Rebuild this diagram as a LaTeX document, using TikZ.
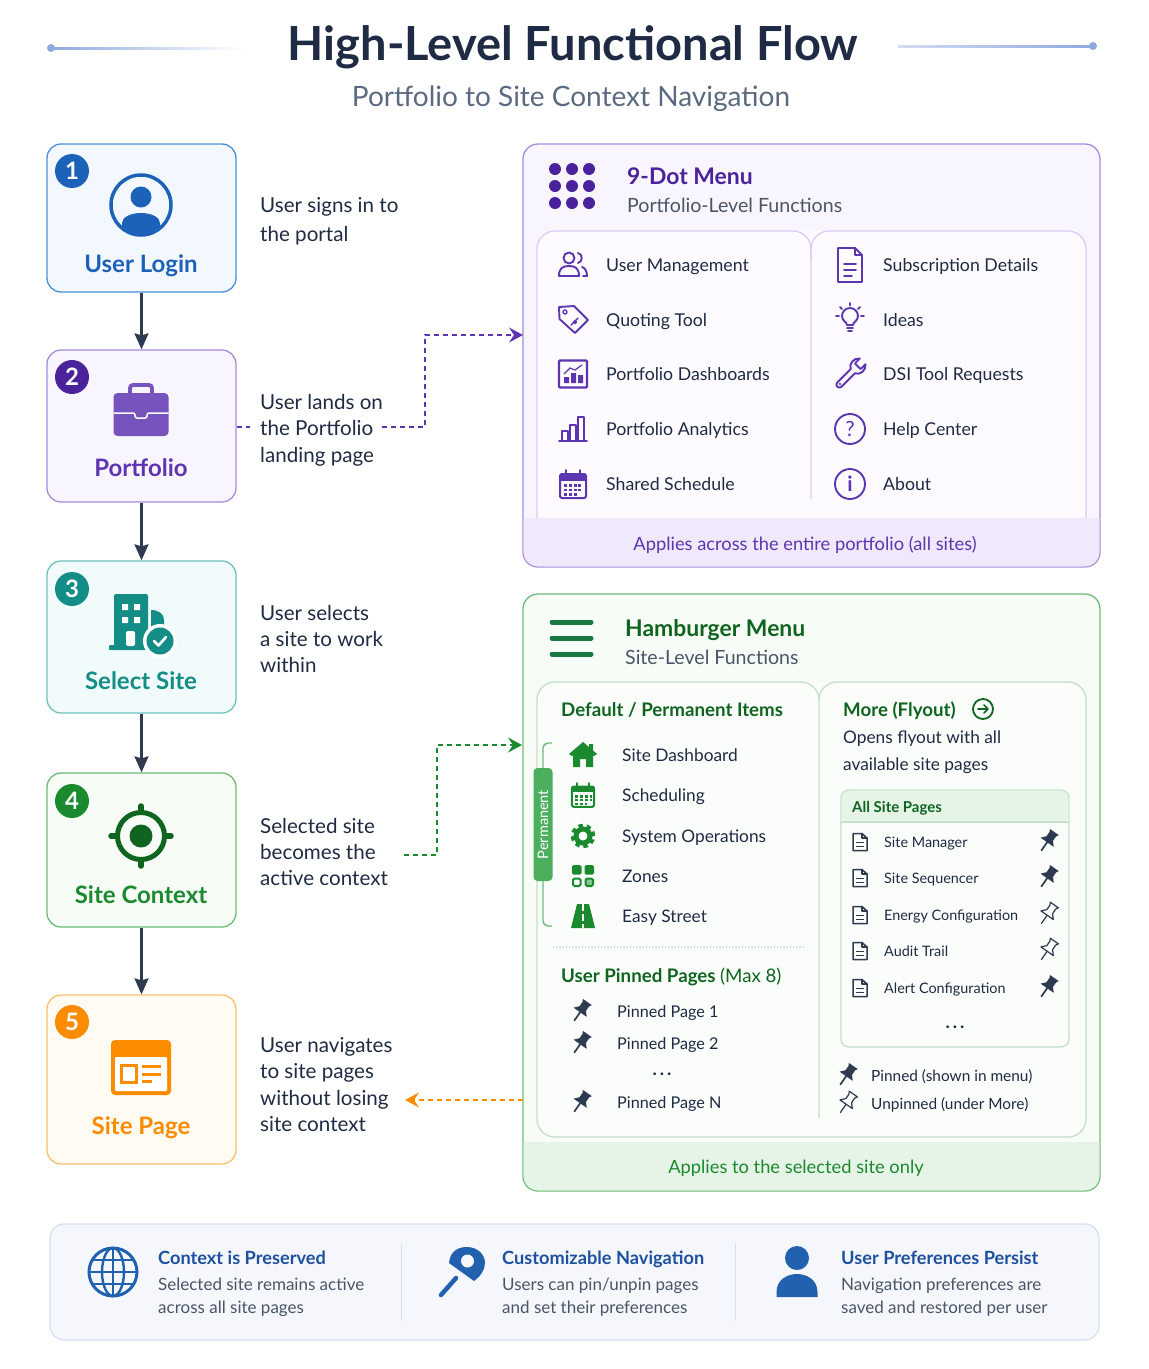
\documentclass[tikz,border=0pt]{standalone}
\usepackage{fontspec}
\setmainfont{Lato}
\usepackage{xcolor}
\usepackage{tikz}
\usetikzlibrary{arrows.meta, calc}
\newcommand{\fs}[1]{\fontsize{#1}{#1}\selectfont}
\definecolor{inkdark}{HTML}{1F2A44}
\definecolor{inkgrey}{HTML}{4A5568}
\definecolor{inksub}{HTML}{5B6A80}
\definecolor{rulebl}{HTML}{8FA9DF}
\definecolor{arrowdark}{HTML}{2D3A4F}
\definecolor{blueline}{HTML}{4A90D9}
\definecolor{bluemain}{HTML}{1C62B9}
\definecolor{bluefill}{HTML}{F3F7FE}
\definecolor{purpline}{HTML}{A98BDD}
\definecolor{purpmain}{HTML}{5E35B1}
\definecolor{purpdeep}{HTML}{4A239C}
\definecolor{purpfill}{HTML}{F9F5FE}
\definecolor{purpband}{HTML}{EFE9FB}
\definecolor{purppanel}{HTML}{FDFBFF}
\definecolor{purpedge}{HTML}{D9CDF3}
\definecolor{tealline}{HTML}{6CC2BC}
\definecolor{tealmain}{HTML}{138D85}
\definecolor{tealfill}{HTML}{F2FBFB}
\definecolor{greenline}{HTML}{6CBB78}
\definecolor{greenmain}{HTML}{1B8A2E}
\definecolor{greendeep}{HTML}{0F6420}
\definecolor{greenfill}{HTML}{F7FCF6}
\definecolor{greenband}{HTML}{E6F4E8}
\definecolor{greenpanel}{HTML}{FBFDFB}
\definecolor{greenedge}{HTML}{C3E0CB}
\definecolor{burgergreen}{HTML}{187A40}
\definecolor{pillgreen}{HTML}{4CAF5E}
\definecolor{orangeline}{HTML}{FBBF6B}
\definecolor{orangemain}{HTML}{FB8C00}
\definecolor{orangefill}{HTML}{FFFBF2}
\definecolor{stripline}{HTML}{D5E0F5}
\definecolor{stripfill}{HTML}{F5F7FD}
\definecolor{stripblue}{HTML}{1E50A0}
\definecolor{stripicon}{HTML}{2161AE}
\begin{document}
\begin{tikzpicture}[x=1pt, y=-1pt,
        % Define a style for the step boxes and their numbers
        stepbox/.style={draw, rounded corners=14pt, line width=1.3pt, minimum width=189pt},
        badge/.style={circle, minimum size=34pt, inner sep=0pt, text=white, font=\bfseries\fs{24}},
        evenline/.style={execute at begin node=\vphantom{Ag}, yshift=-1.8pt},
        steptitle/.style={inner sep=0pt, evenline, font=\bfseries\fs{24}},
        steptext/.style={anchor=west, inner sep=0pt, align=left, text=inkdark},
        flow/.style={line width=2.3pt, draw=arrowdark, -{Stealth[length=16pt, width=14pt, inset=2pt]}},
        jump/.style={line width=1.8pt, dash pattern=on 5pt off 4pt},
        jumpend/.style={-{Stealth[length=14pt, width=15pt, inset=5pt]}},
        % Define a style for the menus
        menubox/.style={draw, rounded corners=15pt, line width=1.3pt, minimum width=577pt},
        menuhead/.style={anchor=west, inner sep=0pt, evenline, font=\bfseries\fs{22.9}},
        menusub/.style={anchor=west, inner sep=0pt, evenline, text=inkgrey, font=\fs{19.6}},
        itemtext/.style={anchor=west, inner sep=0pt, evenline, text=inkdark, font=\fs{17.7}},
        siteitem/.style={itemtext, font=\fs{17.3}},
        pinneditem/.style={itemtext, font=\fs{16.2}},
        smalltext/.style={anchor=west, inner sep=0pt, evenline, text=inkdark, font=\fs{14.4}},
        legendtext/.style={smalltext, font=\fs{15.4}},
        moredots/.style={inner sep=0pt, text=inkdark, font=\bfseries\fs{18}},
        sechead/.style={anchor=west, inner sep=0pt, evenline, text=greendeep, font=\bfseries\fs{18.7}},
        bandtext/.style={inner sep=0pt, evenline, font=\fs{18.3}},
        % Define a style for the notes along the bottom
        notehead/.style={anchor=west, inner sep=0pt, evenline, text=stripblue, font=\bfseries\fs{18.2}},
        notetext/.style={anchor=west, inner sep=0pt, evenline, text=inkgrey, font=\fs{17}},
        lineic/.style={line width=1.9pt, line join=round, line cap=round},
        % Define the icons of the menus
        peopleicon/.pic={
            \draw[lineic, purpmain] (-4,-7) circle[radius=5.5pt];
            \draw[lineic, purpmain] (-14,11) .. controls (-14,3) and (-10,1) .. (-4,1) .. controls (2,1) and (6,3) .. (6,11) -- cycle;
            \draw[lineic, purpmain] (5,-12) .. controls (10,-11) and (10,-3) .. (5,-2);
            \draw[lineic, purpmain] (9,2) .. controls (12,3) and (14,6) .. (14,11) -- (10,11);
        },
        tagicon/.pic={
            \draw[lineic, purpmain] (-14,-13) -- (1,-14) -- (15,0) -- (2,13) -- (-13.5,-1) -- cycle;
            \draw[lineic, purpmain, line width=1.4pt] (-8,-8) circle[radius=2pt];
            \draw[lineic, purpmain, line width=1.4pt] (-2,5) -- (5,-2) (2,2) circle[radius=1.5pt];
        },
        dashicon/.pic={
            \draw[purpmain, line width=2.4pt, rounded corners=1pt] (-14,-13.5) rectangle (14,13.5);
            \fill[purpmain] (-9,9) rectangle (-4,3) (-2,9) rectangle (3,-1) (5,9) rectangle (10,1);
            \draw[lineic, purpmain, line width=1.2pt] (-9,0) -- (-3,-6) -- (2,-4) -- (9,-9);
        },
        barsicon/.pic={
            \draw[lineic, purpmain] (-14,12) -- (14,12);
            \draw[lineic, purpmain] (-11,12) rectangle (-5,2) (-3,12) rectangle (3,-4) (5,12) rectangle (11,-12);
        },
        pics/calicon/.style={code={
            \draw[#1, line width=2pt, rounded corners=2pt] (-13,-10) rectangle (13,14);
            \fill[#1] (-13,-10) rectangle (13,-3);
            \draw[#1, lineic] (-7,-14) -- (-7,-9) (7,-14) -- (7,-9);
            \draw[#1, line width=2.6pt, dash pattern=on 3pt off 1.8pt] (-9,1.5) -- (10,1.5) (-9,6) -- (10,6) (-9,10.5) -- (5,10.5);
        }},
        subicon/.pic={
            \draw[lineic, purpmain] (-12,-17) -- (5,-17) -- (12,-10) -- (12,17) -- (-12,17) -- cycle;
            \draw[lineic, purpmain] (5,-17) -- (5,-10) -- (12,-10);
            \draw[lineic, purpmain] (-6,-1) -- (6,-1) (-6,5) -- (6,5) (-6,11) -- (2,11);
        },
        bulbicon/.pic={
            \draw[lineic, purpmain] (-3,5) .. controls (-3,2) and (-8,1) .. (-8,-4) arc[start angle=180, end angle=0, radius=8pt] .. controls (8,1) and (3,2) .. (3,5) -- cycle;
            \draw[lineic, purpmain] (-3,8) -- (3,8) (-2,11) -- (2,11);
            \draw[lineic, purpmain] (0,-17) -- (0,-14.5) (-14,-4) -- (-11,-4) (14,-4) -- (11,-4) (-10,-13) -- (-8,-11) (10,-13) -- (8,-11);
        },
        wrenchicon/.pic={
            \begin{scope}[rotate=-45]
                \draw[lineic, purpmain] (-3,15) -- (-3,-4) .. controls (-8,-6) and (-9,-14) .. (-4,-18) -- (-4,-11) -- (4,-11) -- (4,-18) .. controls (9,-14) and (8,-6) .. (3,-4) -- (3,15) arc[start angle=0, end angle=-180, radius=3pt] -- cycle;
                \draw[lineic, purpmain, line width=1.3pt] (0,14) circle[radius=1pt];
            \end{scope}
        },
        % The icons of the hamburger menu
        houseicon/.pic={
            \fill[greenmain, line join=round] (0,-13) -- (6,-8) -- (6,-11) -- (10,-11) -- (10,-4.5) -- (14,-1) -- (11,1) -- (10,0) -- (10,12) -- (3,12) -- (3,4) -- (-3,4) -- (-3,12) -- (-10,12) -- (-10,0) -- (-11,1) -- (-14,-1) -- cycle;
        },
        gearicon/.pic={
            \draw[greenmain, line width=5pt] (0,0) circle[radius=7pt];
            \draw[greenmain, line width=3.6pt, dash pattern=on 4.4pt off 3.85pt] (0,0) circle[radius=10.5pt];
        },
        gridicon/.pic={
            \fill[greenmain, rounded corners=1.5pt] (-11,-11) rectangle (-1.5,-1.5) (1.5,-11) rectangle (11,-1.5);
            \draw[greenmain, line width=2pt, rounded corners=1.5pt] (-10,2.5) rectangle (-2.5,10);
            \draw[greenmain, line width=2pt, rounded corners=1.5pt, fill=pillgreen!70] (2.5,2.5) rectangle (10,10);
        },
        roadicon/.pic={
            \fill[greenmain] (-6,-12) -- (6,-12) -- (12,12) -- (-12,12) -- cycle;
            \draw[white, line width=2.6pt, dash pattern=on 7pt off 3pt] (0,-12) -- (0,12);
        },
        goicon/.pic={
            \draw[greendeep, line width=1.8pt] (0,0) circle[radius=10pt];
            \draw[lineic, greendeep, line width=1.7pt] (-5,0) -- (4.5,0) (1,-4) -- (5,0) -- (1,4);
        },
        docicon/.pic={
            \draw[lineic, arrowdark, line width=1.5pt] (-7,-8.5) -- (2,-8.5) -- (7,-4) -- (7,8.5) -- (-7,8.5) -- cycle;
            \draw[lineic, arrowdark, line width=1.3pt] (2,-8.5) -- (2,-4) -- (7,-4);
            \draw[lineic, arrowdark, line width=1.3pt] (-3.5,0.5) -- (3.5,0.5) (-3.5,4.5) -- (3.5,4.5);
        },
        pinfull/.pic={
            \begin{scope}[rotate=-35]
                \fill[arrowdark, line join=round] (-5.5,-11) -- (5.5,-11) -- (4,-8.5) -- (4,-3) -- (8,1.5) -- (-8,1.5) -- (-4,-3) -- (-4,-8.5) -- cycle;
                \draw[lineic, arrowdark, line width=1.7pt] (0,1) -- (0,11.5);
            \end{scope}
        },
        pinopen/.pic={
            \begin{scope}[rotate=-35]
                \draw[lineic, arrowdark, line width=1.2pt] (-5,-11) -- (5,-11) -- (3.5,-8.5) -- (3.5,-3) -- (7.5,1.5) -- (-7.5,1.5) -- (-3.5,-3) -- (-3.5,-8.5) -- cycle;
                \draw[lineic, arrowdark, line width=1.2pt] (0,1.5) -- (0,11.5);
            \end{scope}
        },
        % The icons of the steps
        loginicon/.pic={
            \draw[bluemain, line width=3.5pt] (0,0) circle[radius=30pt];
            \fill[bluemain] (0,-8) circle[radius=10.5pt];
            \fill[bluemain] (-19,18) .. controls (-19,12) and (-10,8) .. (0,8) .. controls (10,8) and (19,12) .. (19,18) -- (19,22) .. controls (10,31) and (-10,31) .. (-19,22) -- cycle;
        },
        caseicon/.pic={
            \draw[purpmain!85, line width=3.8pt, rounded corners=3pt] (-11,-17) -- (-11,-25) -- (11,-25) -- (11,-17);
            \fill[purpmain!85, rounded corners=4pt] (-27.5,-17) rectangle (27.5,26);
            \draw[white, line width=1.5pt, rounded corners=2pt] (-27.5,3) -- (-6,3) -- (-6,8) -- (6,8) -- (6,3) -- (27.5,3);
        },
        buildicon/.pic={
            \fill[tealmain, rounded corners=2pt] (-27,-26) rectangle (7,26);
            \fill[tealmain, rounded corners=1pt] (-32,25) rectangle (20,30);
            \fill[tealmain] (10,26) -- (10,-10) .. controls (18,-10) and (23,-6) .. (23,0) -- (23,26) -- cycle;
            \fill[white] (-19,-16) rectangle (-13,-10) (-7,-16) rectangle (-1,-10) (-19,-3) rectangle (-13,3) (-7,-3) rectangle (-1,3);
            \fill[white, rounded corners=2pt] (-15,26) -- (-15,11) -- (-6,11) -- (-6,26) -- cycle;
            \fill[white] (19,21) circle[radius=17pt];
            \fill[tealmain] (19,21) circle[radius=13.5pt];
            \draw[lineic, white, line width=2.6pt] (13,21) -- (17.5,25.5) -- (25,17);
        },
        targeticon/.pic={
            \draw[greendeep, line width=5pt] (0,0) circle[radius=23.5pt];
            \fill[greendeep] (0,0) circle[radius=11.5pt];
            \draw[greendeep, line width=5.5pt, line cap=round] (0,-24) -- (0,-30) (0,24) -- (0,30) (-24,0) -- (-30,0) (24,0) -- (30,0);
        },
        pageicon/.pic={
            \fill[orangemain, rounded corners=4pt] (-30,-27) rectangle (30,28);
            \fill[white, rounded corners=1pt] (-26,-10) rectangle (26,24);
            \draw[orangemain, line width=3pt] (-20,-2) rectangle (-5,15);
            \draw[orangemain, line width=3pt] (1,-1) -- (20,-1) (1,7) -- (20,7) (1,14) -- (11,14);
        },
        % The icons of the notes
        globeicon/.pic={
            \draw[stripicon, line width=3pt] (0,0) circle[radius=24pt];
            \draw[stripicon, line width=2.4pt] (0,0) ellipse[x radius=11pt, y radius=24pt];
            \draw[stripicon, line width=2.4pt] (0,-24) -- (0,24) (-24,0) -- (24,0) (-20,-12) -- (20,-12) (-20,12) -- (20,12);
        },
        keyicon/.pic={
            \fill[stripicon] (-13,-9) .. controls (-12,-20) and (-5,-25) .. (5,-25) .. controls (15,-25) and (23,-18) .. (23,-9) .. controls (23,-2) and (18,5) .. (12,9) -- cycle;
            \fill[stripfill] (5.5,-11) circle[radius=6.5pt];
            \draw[stripicon, line width=4.5pt, line cap=round] (-21,23) -- (-6,6);
        },
        personicon/.pic={
            \fill[stripicon] (0,-14) circle[radius=12pt];
            \fill[stripicon] (-20.5,25) -- (-20.5,20) .. controls (-20.5,8) and (-10,2) .. (0,2) .. controls (10,2) and (20.5,8) .. (20.5,20) -- (20.5,25) -- cycle;
        }]

        \useasboundingbox (0,0) rectangle (1149,1369);

        % 1. The title
        \node[inner sep=0pt, text=inkdark, font=\bfseries\fs{47}] (title) at (573,47) {High-Level Functional Flow};
        \node[inner sep=0pt, text=inksub, font=\fs{28}] (subtitle) at (571,98.5) {Portfolio to Site Context Navigation};
        \fill[left color=rulebl, right color=white] (51,47) rectangle (245,49);
        \fill[rulebl] (51,48) circle[radius=4pt];
        \fill[right color=rulebl, left color=rulebl!40] (898,45) rectangle (1093,47);
        \fill[rulebl] (1093,46) circle[radius=4pt];

        % 2. The steps on the left
        \node[stepbox, draw=blueline, fill=bluefill, minimum height=148pt] (userlogin) at (141.5,218) {};
        \node[stepbox, draw=purpline, fill=purpfill, minimum height=152pt] (portfolio) at (141.5,426) {};
        \node[stepbox, draw=tealline, fill=tealfill, minimum height=152pt] (selectsite) at (141.5,637) {};
        \node[stepbox, draw=greenline, fill=greenfill, minimum height=154pt] (sitecontext) at (141.5,850) {};
        \node[stepbox, draw=orangeline, fill=orangefill, minimum height=169pt] (sitepage) at (141.5,1079.5) {};

        \node[badge, fill=bluemain] (num1) at (72,171) {1};
        \node[badge, fill=purpdeep] (num2) at (72,377) {2};
        \node[badge, fill=tealmain] (num3) at (72,589) {3};
        \node[badge, fill=greenmain] (num4) at (72,801) {4};
        \node[badge, fill=orangemain] (num5) at (72,1022) {5};

        \pic at (141,205) {loginicon};
        \pic at (141,410) {caseicon};
        \pic at (141,620) {buildicon};
        \pic at (141,836) {targeticon};
        \pic at (141,1067) {pageicon};

        \node[steptitle, text=bluemain] (logintitle) at (141,264) {User Login};
        \node[steptitle, text=purpmain] (casetitle) at (141,468) {Portfolio};
        \node[steptitle, text=tealmain] (buildtitle) at (141,681) {Select Site};
        \node[steptitle, text=greenmain] (targettitle) at (141,895) {Site Context};
        \node[steptitle, text=orangemain] (pagetitle) at (141,1126) {Site Page};

        \draw[flow] (userlogin) -- (portfolio);
        \draw[flow] (portfolio) -- (selectsite);
        \draw[flow] (selectsite) -- (sitecontext);
        \draw[flow] (sitecontext) -- (sitepage);

        \node[steptext, font=\fontsize{20.6}{29}\selectfont] (logindesc) at (260,221.5) {User signs in to\\the portal};
        \node[steptext, font=\fontsize{20.6}{26.4}\selectfont] (casedesc) at (260,430) {User lands on\\the Portfolio\\landing page};
        \node[steptext, font=\fontsize{20.6}{26.4}\selectfont] (builddesc) at (260,639) {User selects\\a site to work\\within};
        \node[steptext, font=\fontsize{20.6}{26.4}\selectfont] (targetdesc) at (260,852) {Selected site\\becomes the\\active context};
        \node[steptext, font=\fontsize{20.6}{26.4}\selectfont] (pagedesc) at (260,1084.5) {User navigates\\to site pages\\without losing\\site context};

        % 3. The 9-dot menu
        \node[menubox, draw=purpline, fill=purpfill, minimum height=423pt] (dotmenu) at (811.5,355.5) {};
        \fill[purppanel, rounded corners=18pt] (537,231) rectangle (1086,530);
        \fill[purpband] (523.7,518) -- (1099.3,518) [rounded corners=14pt] -- (1099.3,566.3) -- (523.7,566.3) [sharp corners] -- cycle;
        \draw[purpedge, line width=1.3pt, rounded corners=18pt] (537,518) -- (537,231) -- (811,231) -- (811,499.001);
        \draw[purpedge, line width=1.3pt, rounded corners=18pt] (811,260) -- (811,231) -- (1086,231) -- (1086,518);
        \fill[purpdeep] (555,169) circle[radius=6pt] (572,169) circle[radius=6pt] (589,169) circle[radius=6pt]
            (555,186) circle[radius=6pt] (572,186) circle[radius=6pt] (589,186) circle[radius=6pt]
            (555,203) circle[radius=6pt] (572,203) circle[radius=6pt] (589,203) circle[radius=6pt];
        \node[menuhead, text=purpdeep] (dothead) at (627,176) {9-Dot Menu};
        \node[menusub] (dotsub) at (627,205) {Portfolio-Level Functions};

        \pic at (573,265) {peopleicon};
        \pic at (573,320) {tagicon};
        \pic at (573,374) {dashicon};
        \pic at (573,429) {barsicon};
        \pic at (573,484) {calicon=purpmain};
        \node[itemtext] (usermgmt) at (606,265) {User Management};
        \node[itemtext] (quoting) at (606,320) {Quoting Tool};
        \node[itemtext] (dashboards) at (606,374) {Portfolio Dashboards};
        \node[itemtext] (analytics) at (606,429) {Portfolio Analytics};
        \node[itemtext] (schedule) at (606,484) {Shared Schedule};

        \pic at (850,265) {subicon};
        \pic at (850,320) {bulbicon};
        \pic at (850,374) {wrenchicon};
        \draw[lineic, purpmain] (850,429) circle[radius=15pt];
        \node[inner sep=0pt, text=purpmain, font=\fs{21}] (qmark) at (850,429) {?};
        \draw[lineic, purpmain] (850,484) circle[radius=15pt];
        \node[inner sep=0pt, text=purpmain, font=\bfseries\fs{21}] (imark) at (850,484) {i};
        \node[itemtext] (subscr) at (883,265) {Subscription Details};
        \node[itemtext] (ideas) at (883,320) {Ideas};
        \node[itemtext] (dsi) at (883,374) {DSI Tool Requests};
        \node[itemtext] (help) at (883,429) {Help Center};
        \node[itemtext] (about) at (883,484) {About};
        \node[bandtext, text=purpmain] (dotband) at (805,543) {Applies across the entire portfolio (all sites)};

        % 4. The hamburger menu
        \node[menubox, draw=greenline, fill=greenfill, minimum height=597pt] (hamburger) at (811.5,892.5) {};
        \fill[greenband] (523.7,1142) -- (1099.3,1142) [rounded corners=14pt] -- (1099.3,1190.3) -- (523.7,1190.3) [sharp corners] -- cycle;
        \fill[greenpanel, rounded corners=18pt] (537,682) rectangle (1086,1137);
        \draw[greenedge, line width=1.3pt, rounded corners=18pt] (819,1118.001) -- (819,682) -- (537,682) -- (537,1137) -- (1086,1137) -- (1086,682) -- (819,682) -- (819,710);
        \draw[burgergreen, line width=5pt, line cap=round] (552,622) -- (591,622) (552,638) -- (591,638) (552,654) -- (591,654);
        \node[menuhead, text=greendeep] (hamhead) at (625,628) {Hamburger Menu};
        \node[menusub] (hamsub) at (625,657) {Site-Level Functions};

        \node[sechead] (defaults) at (561,709) {Default / Permanent Items};
        \draw[greenline, line width=1.4pt, rounded corners=5pt] (552,743) -- (543,743) -- (543,926) -- (552,926);
        \node[fill=pillgreen, rounded corners=4pt, rotate=90, minimum width=113pt, minimum height=19pt, inner sep=0pt, text=white, font=\fs{14.5}] (permanent) at (543,824.5) {Permanent};
        \pic at (583,755) {houseicon};
        \pic[scale=.85] at (583,795) {calicon=greenmain};
        \pic at (583,836) {gearicon};
        \pic at (583,876) {gridicon};
        \pic at (583,916) {roadicon};
        \node[siteitem] (sitedash) at (622,755) {Site Dashboard};
        \node[siteitem] (scheduling) at (622,795) {Scheduling};
        \node[siteitem] (sysops) at (622,836) {System Operations};
        \node[siteitem] (zones) at (622,876) {Zones};
        \node[siteitem] (easy) at (622,916) {Easy Street};
        \draw[greenedge, line width=1.2pt, dotted] (553,947) -- (803,947);

        \node[sechead] (pinnedhead) at (561,975) {User Pinned Pages \textmd{(Max 8)}};
        \pic at (581,1011) {pinfull};
        \pic at (581,1043) {pinfull};
        \pic at (581,1102) {pinfull};
        \node[pinneditem] (pinned1) at (617,1011) {Pinned Page 1};
        \node[pinneditem] (pinned2) at (617,1043) {Pinned Page 2};
        \node[moredots] (pinnedmore) at (662,1074) {.\hspace{3pt}.\hspace{3pt}.};
        \node[pinneditem] (pinnedn) at (617,1102) {Pinned Page N};

        \node[sechead] (morehead) at (843,709) {More (Flyout)};
        \pic at (983,709) {goicon};
        \node[siteitem] (opens) at (843,737) {Opens flyout with all};
        \node[siteitem] (available) at (843,764) {available site pages};

        \node[draw=greenedge, fill=greenpanel, line width=1.4pt, rounded corners=8pt, minimum width=228pt, minimum height=257pt] (allpages) at (955,918.5) {};
        \fill[greenband, rounded corners=7pt] (841.7,822) -- (841.7,790.7) -- (1068.3,790.7) -- (1068.3,822) -- cycle;
        \draw[greenedge, line width=1.2pt] (841,822) -- (1069,822);
        \node[smalltext, text=greendeep, font=\bfseries\fs{15}] (allhead) at (852,806) {All Site Pages};
        \pic at (860,842) {docicon};
        \pic at (860,878) {docicon};
        \pic at (860,915) {docicon};
        \pic at (860,951) {docicon};
        \pic at (860,988) {docicon};
        \node[smalltext] (sitemgr) at (884,842) {Site Manager};
        \node[smalltext] (siteseq) at (884,878) {Site Sequencer};
        \node[smalltext] (energy) at (884,915) {Energy Configuration};
        \node[smalltext] (audit) at (884,951) {Audit Trail};
        \node[smalltext] (alert) at (884,988) {Alert Configuration};
        \pic at (1048,841) {pinfull};
        \pic at (1048,877) {pinfull};
        \pic at (1048,914) {pinopen};
        \pic at (1048,950) {pinopen};
        \pic at (1048,987) {pinfull};
        \node[moredots] (allmore) at (955,1027) {.\hspace{3pt}.\hspace{3pt}.};
        \pic at (847,1075) {pinfull};
        \pic at (847,1103) {pinopen};
        \node[legendtext] (legendpin) at (871,1075) {Pinned (shown in menu)};
        \node[legendtext] (legendopen) at (871,1103) {Unpinned (under More)};
        \node[bandtext, text=greenmain] (hamband) at (796,1167) {Applies to the selected site only};

        % 5. The dashed links between the steps and the menus
        \coordinate (dotin) at (523,335);
        \coordinate (casegap) at (250,427);
        \coordinate (caseout) at (382,427);
        \coordinate (targetout) at (404,855);
        \coordinate (hamin) at (522,745);
        \coordinate (hamout) at (523,1100);
        \coordinate (pagein) at (405,1100);
        \draw[jump, purpmain] (portfolio.east |- casegap) -- (casegap);
        \draw[jump, jumpend, purpmain] (caseout) -- (425,427) -- (425,335) -- (dotin);
        \draw[jump, jumpend, greenmain] (targetout) -- (437,855) -- (437,745) -- (hamin);
        \draw[jump, jumpend, orangemain] (hamout) -- (pagein);

        % 6. The notes along the bottom
        \node[draw=stripline, fill=stripfill, line width=1.3pt, rounded corners=14pt, minimum width=1049pt, minimum height=116pt] (notes) at (574.5,1282) {};
        \draw[stripline, line width=1pt] (401,1243) -- (401,1321);
        \draw[stripline, line width=1pt] (735,1243) -- (735,1321);
        \pic at (113,1272) {globeicon};
        \pic at (462,1272) {keyicon};
        \pic at (797,1272) {personicon};
        \node[notehead] (contexthead) at (158,1258) {Context is Preserved};
        \node[notetext] (context1) at (158,1284) {Selected site remains active};
        \node[notetext] (context2) at (158,1307) {across all site pages};
        \node[notehead] (customhead) at (502,1258) {Customizable Navigation};
        \node[notetext] (custom1) at (502,1284) {Users can pin/unpin pages};
        \node[notetext] (custom2) at (502,1307) {and set their preferences};
        \node[notehead] (prefhead) at (841,1258) {User Preferences Persist};
        \node[notetext] (pref1) at (841,1284) {Navigation preferences are};
        \node[notetext] (pref2) at (841,1307) {saved and restored per user};
    \end{tikzpicture}
\end{document}
